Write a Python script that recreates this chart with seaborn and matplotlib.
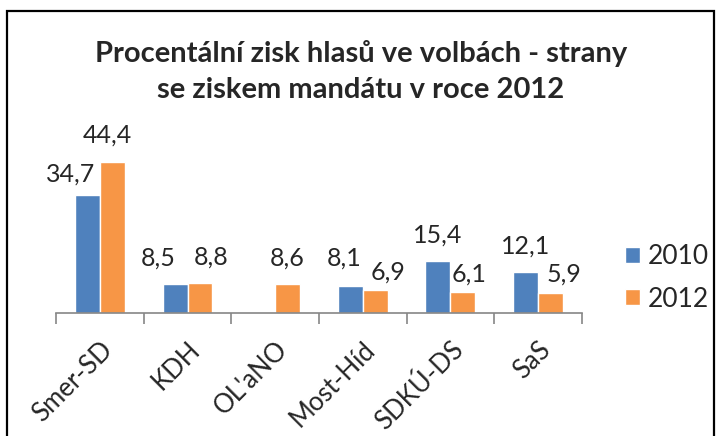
import pandas as pd
import numpy as np
import matplotlib
matplotlib.use("Agg")
import matplotlib.pyplot as plt
import matplotlib.patches as patches
import seaborn as sns

# Data
strany = ["Smer-SD", "KDH", "OL'aNO", "Most-Híd", "SDKÚ-DS", "SaS"]
zisk_2010 = [34.7, 8.5, np.nan, 8.1, 15.4, 12.1]
zisk_2012 = [44.4, 8.8, 8.6, 6.9, 6.1, 5.9]
roky = ["2010", "2012"]

# posun popisků (v pixelech) tak jak jsou v originálu
posun_x = [[-17, -17, 0, -6, 0, 0], [-5, 11, 0, 13, 6, 13]]
posun_y = [[21, 26, 0, 27, 26, 26], [27, 26, 26, 18, 18, 19]]

df = pd.DataFrame({
    "strana": strany * 2,
    "rok": [roky[0]] * len(strany) + [roky[1]] * len(strany),
    "zisk": zisk_2010 + zisk_2012,
})

sns.set_style("white")
plt.rcParams['font.family'] = ['Lato', 'DejaVu Sans']

fig = plt.figure(figsize=(7.22, 4.36), dpi=100)
ax = fig.add_axes([0.0776, 0.282, 0.7284, 0.39])

sns.barplot(data=df, x="strana", y="zisk", hue="rok", order=strany, hue_order=roky,
            palette=["#4F81BD", "#F79646"], width=0.57, gap=0, saturation=1,
            errorbar=None, ax=ax)

# popisky hodnot nad sloupci
for i, cont in enumerate(ax.containers):
    for bar in cont.patches:
        v = bar.get_height()
        if np.isnan(v):
            continue
        xc = bar.get_x() + bar.get_width() / 2
        j = int(round(xc))
        ax.annotate(f"{v:.1f}".replace(".", ","), (xc, v),
                    xytext=(posun_x[i][j] * 0.72, posun_y[i][j] * 0.72),
                    textcoords="offset points", ha="center", va="center", fontsize=18)

ax.set_ylim(0, 50)
ax.set_xlim(-0.5, len(strany) - 0.5)
ax.set_xlabel("")
ax.set_ylabel("")
ax.set_yticks([])
for s in ["left", "right", "top"]:
    ax.spines[s].set_visible(False)
ax.spines["bottom"].set_color("#868686")
ax.spines["bottom"].set_linewidth(1.2)

ax.set_xticks(range(len(strany)))
ax.set_xticklabels(strany, rotation=45, ha="right", rotation_mode="anchor", fontsize=18.5)
ax.tick_params(axis="x", which="major", length=0, pad=17)
ax.set_xticks(np.arange(-0.5, len(strany)), minor=True)
ax.tick_params(axis="x", which="minor", length=8, width=1.2, color="#868686", bottom=True)

leg = ax.legend(loc="center left", bbox_to_anchor=(1.082, 0.206), frameon=False,
                fontsize=19, handlelength=0.57, handleheight=0.57, labelspacing=0.65,
                handletextpad=0.3, borderpad=0, borderaxespad=0)

fig.text(0.5, 0.836, "Procentální zisk hlasů ve volbách - strany\nse ziskem mandátu v roce 2012",
         ha="center", va="center", fontsize=21, fontweight="bold", linespacing=1.5)

# rámeček grafu
fig.patches.append(patches.Rectangle((7 / 722, -0.05), 707 / 722, 1.05 - 11 / 436,
                                     transform=fig.transFigure, fill=False,
                                     edgecolor="black", linewidth=1.6))

fig.savefig("out.png", dpi=100)
plt.close(fig)
